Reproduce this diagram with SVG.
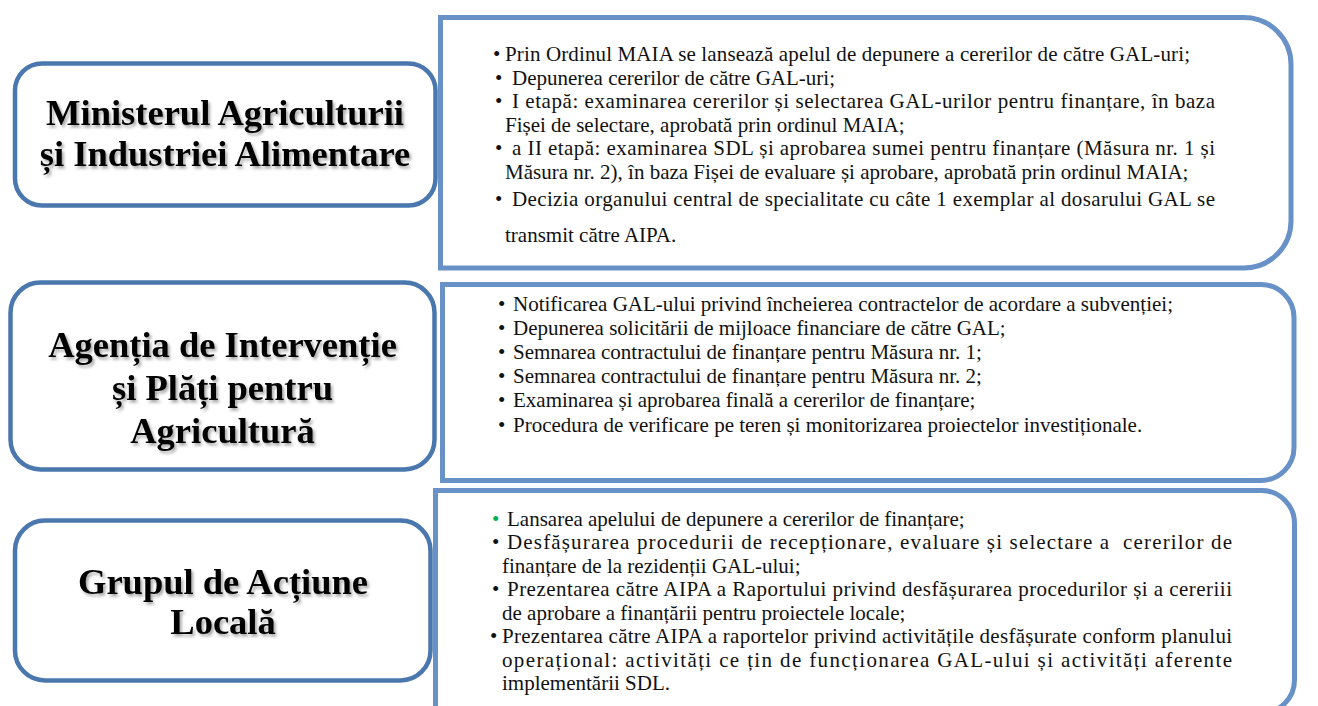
<svg xmlns="http://www.w3.org/2000/svg" width="1318" height="706" viewBox="0 0 1318 706">
<defs>
<filter id="sh" x="-10%" y="-30%" width="120%" height="160%">
<feDropShadow dx="2" dy="2.5" stdDeviation="1.6" flood-color="#000" flood-opacity="0.35"/>
</filter>
</defs>
<style>
.lbox{fill:#fff;stroke:#4A77AD;stroke-width:4.5}
.rbox{fill:#fff;stroke:#6891C8;stroke-width:5}
.title{font-family:"Liberation Serif","Times New Roman",serif;font-weight:bold;font-size:36.5px;fill:#000;text-anchor:middle;filter:url(#sh)}
.t{font-family:"Liberation Serif","Times New Roman",serif;font-size:21px;fill:#111}
.g{fill:#00B050}
</style>
<rect width="1318" height="706" fill="#fff"/>

<g id="node-maia">
<rect class="lbox" x="15" y="63.5" width="420.5" height="142" rx="27"/>
<text class="title" x="225" y="125">Ministerul Agriculturii</text>
<text class="title" x="225" y="165.5">și Industriei Alimentare</text>
</g>

<g id="node-maia-tasks">
<path class="rbox" d="M440.5,17.5 H1244 A47,47 0 0 1 1291,64.5 V221 A47,47 0 0 1 1244,268 H440.5 Z"/>
<text class="t" x="493" y="61">•</text><text class="t" x="505" y="61" textLength="685" lengthAdjust="spacing">Prin Ordinul MAIA se lansează apelul de depunere a cererilor de către GAL-uri;</text>
<text class="t" x="495" y="84.5">•</text><text class="t" x="512" y="84.5">Depunerea cererilor de către GAL-uri;</text>
<text class="t" x="495" y="108">•</text><text class="t" x="512" y="108" textLength="703" lengthAdjust="spacing">I etapă: examinarea cererilor și selectarea GAL-urilor pentru finanțare, în baza</text>
<text class="t" x="505" y="131.5">Fișei de selectare, aprobată prin ordinul MAIA;</text>
<text class="t" x="495" y="155">•</text><text class="t" x="512" y="155" textLength="703" lengthAdjust="spacing">a II etapă: examinarea SDL și aprobarea sumei pentru finanțare (Măsura nr. 1 și</text>
<text class="t" x="505" y="178.5">Măsura nr. 2), în baza Fișei de evaluare și aprobare, aprobată prin ordinul MAIA;</text>
<text class="t" x="495" y="206">•</text><text class="t" x="512" y="206" textLength="703" lengthAdjust="spacing">Decizia organului central de specialitate cu câte 1 exemplar al dosarului GAL se</text>
<text class="t" x="505" y="242">transmit către AIPA.</text>
</g>

<g id="node-aipa">
<rect class="lbox" x="10.5" y="282.5" width="424" height="187" rx="30"/>
<text class="title" x="222.5" y="357">Agenția de Intervenție</text>
<text class="title" x="222.5" y="400">și Plăți pentru</text>
<text class="title" x="222.5" y="443">Agricultură</text>
</g>

<g id="node-aipa-tasks">
<path class="rbox" d="M442.5,284.5 H1261 A33,33 0 0 1 1294,317.5 V447.5 A33,33 0 0 1 1261,480.5 H442.5 Z"/>
<text class="t" x="498" y="311">•</text><text class="t" x="513" y="311">Notificarea GAL-ului privind încheierea contractelor de acordare a subvenției;</text>
<text class="t" x="498" y="335">•</text><text class="t" x="513" y="335">Depunerea solicitării de mijloace financiare de către GAL;</text>
<text class="t" x="498" y="359">•</text><text class="t" x="513" y="359">Semnarea contractului de finanțare pentru Măsura nr. 1;</text>
<text class="t" x="498" y="383">•</text><text class="t" x="513" y="383">Semnarea contractului de finanțare pentru Măsura nr. 2;</text>
<text class="t" x="498" y="407">•</text><text class="t" x="513" y="407">Examinarea și aprobarea finală a cererilor de finanțare;</text>
<text class="t" x="498" y="432">•</text><text class="t" x="513" y="432">Procedura de verificare pe teren și monitorizarea proiectelor investiționale.</text>
</g>

<g id="node-gal">
<rect class="lbox" x="15" y="520.5" width="415.5" height="160" rx="30"/>
<text class="title" x="223" y="593.5">Grupul de Acțiune</text>
<text class="title" x="223" y="634">Locală</text>
</g>

<g id="node-gal-tasks">
<path class="rbox" d="M435.5,490.5 H1261 A33,33 0 0 1 1294.5,524 V680 A33,33 0 0 1 1261,713 H435.5 Z"/>
<text class="t g" x="492" y="525.5">•</text><text class="t" x="507" y="525.5">Lansarea apelului de depunere a cererilor de finanțare;</text>
<text class="t" x="492" y="549">•</text><text class="t" x="507" y="549" textLength="725" lengthAdjust="spacing" xml:space="preserve">Desfășurarea procedurii de recepționare, evaluare și selectare a  cererilor de</text>
<text class="t" x="502" y="572.5">finanțare de la rezidenții GAL-ului;</text>
<text class="t" x="492" y="596">•</text><text class="t" x="507" y="596" textLength="725" lengthAdjust="spacing">Prezentarea către AIPA a Raportului privind desfășurarea procedurilor și a cereriii</text>
<text class="t" x="502" y="619.5">de aprobare a finanțării pentru proiectele locale;</text>
<text class="t" x="490" y="643">•</text><text class="t" x="502" y="643" textLength="730" lengthAdjust="spacing">Prezentarea către AIPA a raportelor privind activitățile desfășurate conform planului</text>
<text class="t" x="502" y="666.5" textLength="730" lengthAdjust="spacing">operațional: activități ce țin de funcționarea GAL-ului și activități aferente</text>
<text class="t" x="502" y="690">implementării SDL.</text>
</g>
</svg>
